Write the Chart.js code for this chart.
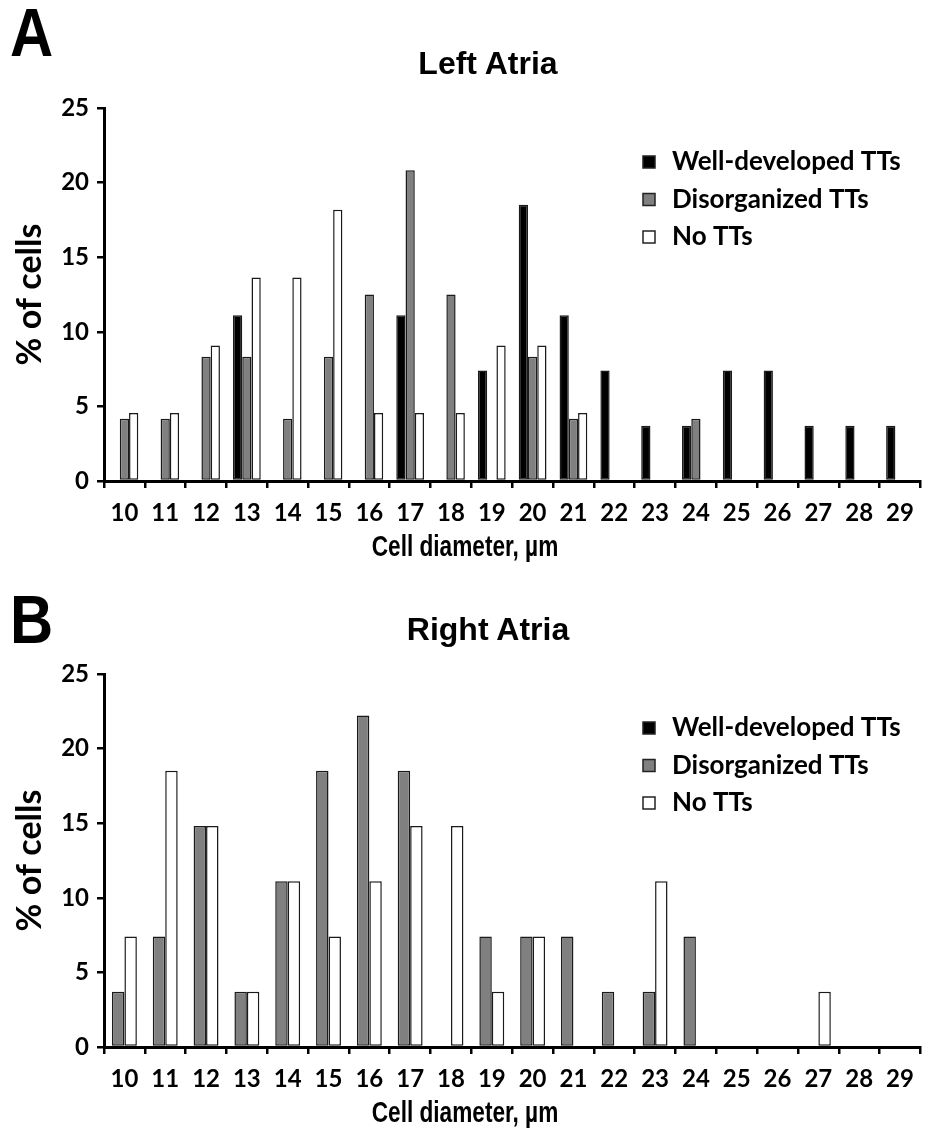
<!DOCTYPE html>
<html>
<head>
<meta charset="utf-8">
<script src="https://cdn.jsdelivr.net/npm/chart.js@4.4.1/dist/chart.umd.min.js"></script>
<style>
  body { margin: 0; background: #fff; }
  #wrap { position: relative; width: 925px; height: 1133px; overflow: hidden; }
  .panel { position: absolute; left: 0; width: 925px; height: 566px; }
  .letter { position: absolute; left: 10px; font: bold 68px "Liberation Sans", Arial, sans-serif; line-height: 68px; transform: scaleX(0.88); transform-origin: left top; }
  .title { position: absolute; left: 338px; width: 300px; text-align: center; font: bold 32px "Liberation Sans", Arial, sans-serif; line-height: 32px; }
</style>
</head>
<body>
<div id="wrap">
  <div class="panel" style="top:0"><canvas id="chartA" width="925" height="566"></canvas></div>
  <div class="panel" style="top:566px"><canvas id="chartB" width="925" height="566"></canvas></div>
  <div class="letter" style="top:-2px">A</div>
  <div class="title" style="top:47px">Left Atria</div>
  <div class="letter" style="top:585px">B</div>
  <div class="title" style="top:613px">Right Atria</div>
</div>
<script>
// cell diameter bins (µm)
const diameters = ['10','11','12','13','14','15','16','17','18','19','20','21','22','23','24','25','26','27','28','29'];
const seriesNames = ['Well-developed TTs', 'Disorganized TTs', 'No TTs'];
const yTicks = [0, 5, 10, 15, 20, 25];

// Left atria, % of cells
const laWell   = [0, 0, 0, 11.11, 0, 0, 0, 11.11, 0, 7.41, 18.52, 11.11, 7.41, 3.70, 3.70, 7.41, 7.41, 3.70, 3.70, 3.70];
const laDisorg = [4.17, 4.17, 8.33, 8.33, 4.17, 8.33, 12.50, 20.83, 12.50, 0, 8.33, 4.17, 0, 0, 4.17, 0, 0, 0, 0, 0];
const laNone   = [4.55, 4.55, 9.09, 13.64, 13.64, 18.18, 4.55, 4.55, 4.55, 9.09, 9.09, 4.55, 0, 0, 0, 0, 0, 0, 0, 0];

// Right atria, % of cells (no well-developed TTs)
const raWell   = [0, 0, 0, 0, 0, 0, 0, 0, 0, 0, 0, 0, 0, 0, 0, 0, 0, 0, 0, 0];
const raDisorg = [3.70, 7.41, 14.81, 3.70, 11.11, 18.52, 22.22, 18.52, 0, 7.41, 7.41, 7.41, 3.70, 3.70, 7.41, 0, 0, 0, 0, 0];
const raNone   = [7.41, 18.52, 14.81, 3.70, 11.11, 7.41, 11.11, 14.81, 14.81, 3.70, 7.41, 0, 0, 11.11, 0, 0, 0, 3.70, 0, 0];

const fills = ['#000000', '#808080', '#ffffff'];
const labelFont = 'Lato, "Open Sans", sans-serif';

// legend drawn inside the plot, top right, and the x caption under the ticks
const extras = {
  id: 'extras',
  afterDraw(chart) {
    const { ctx, chartArea } = chart;
    ctx.save();
    seriesNames.forEach((name, i) => {
      const x = chartArea.left + 539;
      const y = chartArea.top + 54 + i * 37.5;
      ctx.fillStyle = fills[i];
      ctx.fillRect(x, y - 6, 12, 12);
      ctx.strokeStyle = '#222';
      ctx.lineWidth = 1.5;
      ctx.strokeRect(x, y - 6, 12, 12);
      ctx.fillStyle = '#000';
      ctx.font = 'bold 26px ' + labelFont;
      ctx.textBaseline = 'middle';
      ctx.fillText(name, x + 29, y);
    });
    // condensed caption, like the narrow font of the original
    ctx.translate(chartArea.left + 361, chartArea.bottom + 67);
    ctx.scale(0.78, 1);
    ctx.font = 'bold 29px "Liberation Sans", Arial, sans-serif';
    ctx.textAlign = 'center';
    ctx.textBaseline = 'middle';
    ctx.fillStyle = '#000';
    ctx.fillText('Cell diameter, µm', 0, 0);
    ctx.restore();
  }
};

function bars(label, data, i, hidden) {
  return {
    label: label,
    data: data.map(v => v === 0 ? null : v),
    hidden: !!hidden,
    backgroundColor: fills[i],
    borderColor: '#1a1a1a',
    borderWidth: 1.5,
    borderSkipped: false,
    barPercentage: 1.0
  };
}

function makeChart(id, datasets, catPct) {
  datasets.forEach(d => d.categoryPercentage = catPct);
  return new Chart(document.getElementById(id), {
    type: 'bar',
    data: { labels: diameters, datasets: datasets },
    plugins: [extras],
    options: {
      responsive: false,
      animation: false,
      devicePixelRatio: 1,
      layout: { padding: { top: 108, right: 3, left: 0, bottom: 0 } },
      plugins: { legend: { display: false }, tooltip: { enabled: false } },
      scales: {
        x: {
          offset: true,
          grid: { display: true, offset: true, drawOnChartArea: false, drawTicks: true, tickLength: 7, color: '#000', lineWidth: 2.5 },
          border: { display: true, color: '#000', width: 3 },
          ticks: { color: '#000', font: { family: labelFont, weight: 'bold', size: 24 }, padding: 11, maxRotation: 0, autoSkip: false },
          afterFit: s => { s.height = 85; }
        },
        y: {
          min: 0,
          max: 25,
          afterBuildTicks: s => { s.ticks = yTicks.map(v => ({ value: v })); },
          grid: { display: true, drawOnChartArea: false, drawTicks: true, tickLength: 7, color: '#000', lineWidth: 2.5 },
          border: { display: true, color: '#000', width: 3 },
          ticks: { color: '#000', font: { family: labelFont, weight: 'bold', size: 24 }, padding: 8 },
          title: { display: true, text: '% of cells', color: '#000', font: { family: labelFont, weight: 'bold', size: 34 }, padding: { top: 10, bottom: 0 } },
          afterFit: s => { s.width = 104; }
        }
      }
    }
  });
}

makeChart('chartA', [
  bars(seriesNames[0], laWell, 0),
  bars(seriesNames[1], laDisorg, 1),
  bars(seriesNames[2], laNone, 2)
], 0.68);

makeChart('chartB', [
  bars(seriesNames[0], raWell, 0, true),
  bars(seriesNames[1], raDisorg, 1),
  bars(seriesNames[2], raNone, 2)
], 0.61);
</script>
</body>
</html>
